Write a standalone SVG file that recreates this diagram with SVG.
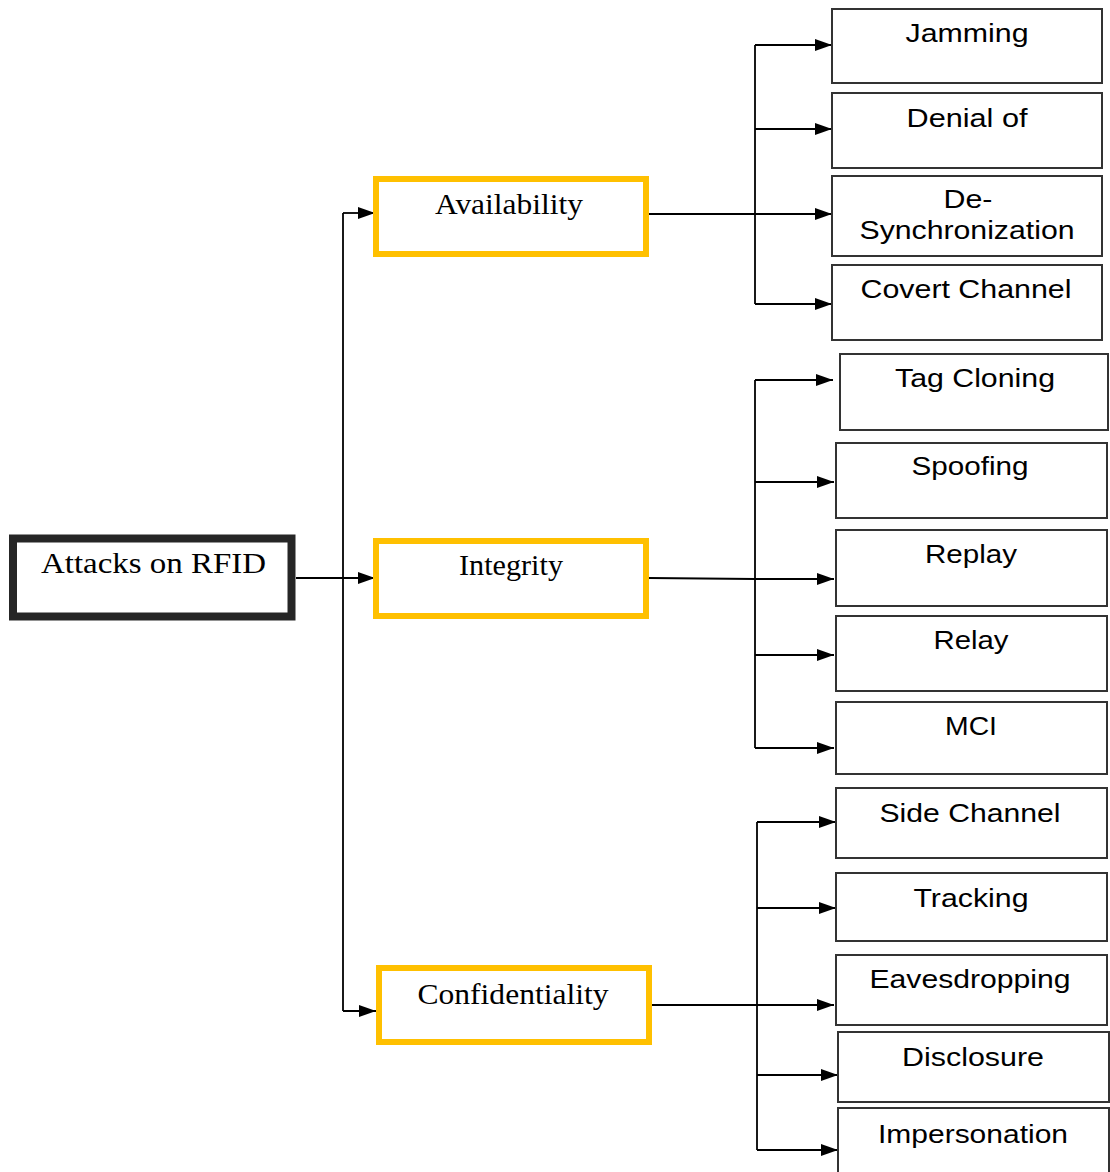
<svg xmlns="http://www.w3.org/2000/svg" width="1110" height="1172" viewBox="0 0 1110 1172">
  <defs>
    <marker id="arrow" markerUnits="userSpaceOnUse" markerWidth="17" markerHeight="12" refX="17" refY="6" orient="auto">
      <path d="M0,0 L17,6 L0,12 Z" fill="#000"/>
    </marker>
    <style>
      .root rect { fill: #fff; stroke: #262626; stroke-width: 8; }
      .cat rect { fill: #fff; stroke: #FFC000; stroke-width: 6; }
      .leaf rect { fill: #fff; stroke: #333; stroke-width: 2; }
      .serif { font-family: "Liberation Serif", "Times New Roman", serif; font-size: 29px; fill: #000; text-anchor: middle; }
      .sans { font-family: "Liberation Sans", Arial, sans-serif; font-size: 25px; fill: #000; text-anchor: middle; }
      .conn path { fill: none; stroke: #000; stroke-width: 1.8; }
      .conn .arr { marker-end: url(#arrow); }
    </style>
  </defs>
  <rect width="1110" height="1172" fill="#fff"/>

  <!-- connectors -->
  <g id="connectors" class="conn">
    <!-- root to categories -->
    <path d="M296,578 L375,578" class="arr"/>
    <path d="M343,213 L343,1011"/>
    <path d="M343,213 L375,213" class="arr"/>
    <path d="M343,1011 L376,1011" class="arr"/>
    <!-- availability branch -->
    <path d="M649,214 L832,214" class="arr"/>
    <path d="M755,45 L755,304"/>
    <path d="M755,45 L832,45" class="arr"/>
    <path d="M755,129 L832,129" class="arr"/>
    <path d="M755,304 L832,304" class="arr"/>
    <!-- integrity branch -->
    <path d="M649,578 L755,579 L834,579" class="arr"/>
    <path d="M755,380 L755,748"/>
    <path d="M755,380 L833,380" class="arr"/>
    <path d="M755,482 L834,482" class="arr"/>
    <path d="M755,655 L834,655" class="arr"/>
    <path d="M755,748 L834,748" class="arr"/>
    <!-- confidentiality branch -->
    <path d="M652,1005 L834,1005" class="arr"/>
    <path d="M757,822 L757,1150"/>
    <path d="M757,822 L836,822" class="arr"/>
    <path d="M757,908 L836,908" class="arr"/>
    <path d="M757,1075 L838,1075" class="arr"/>
    <path d="M757,1150 L838,1150" class="arr"/>
  </g>

  <!-- root -->
  <g id="attacks-on-rfid" class="root">
    <rect x="13" y="538.5" width="278.5" height="78"/>
    <text class="serif" x="153.5" y="573" textLength="225" lengthAdjust="spacingAndGlyphs">Attacks  on RFID</text>
  </g>

  <!-- categories -->
  <g id="availability" class="cat">
    <rect x="376" y="179" width="270" height="75"/>
    <text class="serif" x="509" y="214" textLength="148" lengthAdjust="spacingAndGlyphs">Availability</text>
  </g>
  <g id="integrity" class="cat">
    <rect x="376" y="541" width="270" height="75"/>
    <text class="serif" x="511" y="575" textLength="104" lengthAdjust="spacingAndGlyphs">Integrity</text>
  </g>
  <g id="confidentiality" class="cat">
    <rect x="379" y="968" width="270" height="74"/>
    <text class="serif" x="513" y="1004" textLength="191" lengthAdjust="spacingAndGlyphs">Confidentiality</text>
  </g>

  <!-- availability attacks -->
  <g id="jamming" class="leaf">
    <rect x="832" y="9" width="270" height="74"/>
    <text class="sans" x="967" y="42" textLength="123" lengthAdjust="spacingAndGlyphs">Jamming</text>
  </g>
  <g id="denial-of" class="leaf">
    <rect x="832" y="93" width="270" height="75"/>
    <text class="sans" x="967" y="127" textLength="121" lengthAdjust="spacingAndGlyphs">Denial of</text>
  </g>
  <g id="de-synchronization" class="leaf">
    <rect x="832" y="176" width="270" height="80"/>
    <text class="sans" x="968" y="208" textLength="49" lengthAdjust="spacingAndGlyphs">De-</text>
    <text class="sans" x="967" y="239" textLength="215" lengthAdjust="spacingAndGlyphs">Synchronization</text>
  </g>
  <g id="covert-channel" class="leaf">
    <rect x="832" y="265" width="270" height="75"/>
    <text class="sans" x="966" y="298" textLength="211" lengthAdjust="spacingAndGlyphs">Covert Channel</text>
  </g>

  <!-- integrity attacks -->
  <g id="tag-cloning" class="leaf">
    <rect x="840" y="354" width="268" height="76"/>
    <text class="sans" x="975" y="387" textLength="160" lengthAdjust="spacingAndGlyphs">Tag Cloning</text>
  </g>
  <g id="spoofing" class="leaf">
    <rect x="836" y="443" width="271" height="75"/>
    <text class="sans" x="970" y="475" textLength="117" lengthAdjust="spacingAndGlyphs">Spoofing</text>
  </g>
  <g id="replay" class="leaf">
    <rect x="836" y="530" width="271" height="76"/>
    <text class="sans" x="971" y="563" textLength="92" lengthAdjust="spacingAndGlyphs">Replay</text>
  </g>
  <g id="relay" class="leaf">
    <rect x="836" y="616" width="271" height="75"/>
    <text class="sans" x="971" y="649" textLength="75" lengthAdjust="spacingAndGlyphs">Relay</text>
  </g>
  <g id="mci" class="leaf">
    <rect x="836" y="702" width="271" height="72"/>
    <text class="sans" x="971" y="735" textLength="52" lengthAdjust="spacingAndGlyphs">MCI</text>
  </g>

  <!-- confidentiality attacks -->
  <g id="side-channel" class="leaf">
    <rect x="836" y="788" width="271" height="70"/>
    <text class="sans" x="970" y="822" textLength="181" lengthAdjust="spacingAndGlyphs">Side Channel</text>
  </g>
  <g id="tracking" class="leaf">
    <rect x="836" y="873" width="271" height="68"/>
    <text class="sans" x="971" y="907" textLength="115" lengthAdjust="spacingAndGlyphs">Tracking</text>
  </g>
  <g id="eavesdropping" class="leaf">
    <rect x="836" y="955" width="271" height="70"/>
    <text class="sans" x="970" y="988" textLength="201" lengthAdjust="spacingAndGlyphs">Eavesdropping</text>
  </g>
  <g id="disclosure" class="leaf">
    <rect x="838" y="1032" width="271" height="70"/>
    <text class="sans" x="973" y="1066" textLength="142" lengthAdjust="spacingAndGlyphs">Disclosure</text>
  </g>
  <g id="impersonation" class="leaf">
    <rect x="838" y="1108" width="271" height="80"/>
    <text class="sans" x="973" y="1143" textLength="190" lengthAdjust="spacingAndGlyphs">Impersonation</text>
  </g>
</svg>
